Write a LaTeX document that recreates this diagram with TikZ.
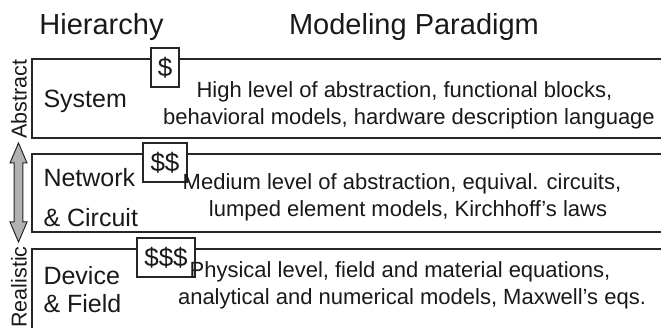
\documentclass[tikz,border=0pt]{standalone}
\usepackage{fontspec}
\setmainfont{Liberation Sans}
\begin{document}
\begin{tikzpicture}[x=1pt,y=-1pt,
  levelbox/.style={draw=black!85, line width=2pt, rectangle, inner sep=0pt},
  costbox/.style={draw=black!85, fill=white, line width=1.2pt, rectangle,
    inner sep=0pt, minimum height=39pt, font=\fontsize{26}{30}\selectfont, text=black!90},
  title/.style={anchor=base, font=\fontsize{29}{34}\selectfont, text=black!90},
  level/.style={anchor=base west, font=\fontsize{25}{30}\selectfont, text=black!90},
  desc/.style={anchor=base, font=\fontsize{22}{27}\selectfont, text=black!90},
  side/.style={anchor=base, rotate=90, font=\fontsize{21.5}{26}\selectfont, text=black!90},
  scalearrow/.style={draw=black!85, fill=black!30, line width=1pt, line join=miter}]
\useasboundingbox (0,0) rectangle (661,328);
\clip (0,0) rectangle (661,328);

% column headings
\node[title] (hHier) at (101.5,35) {Hierarchy};
\node[title] (hPara) at (414,35) {Modeling Paradigm};

% the three abstraction levels (boxes run past the right and bottom edges)
\node[levelbox, minimum width=638pt, minimum height=79pt] (sysbox) at (351,98.5) {};
\node[levelbox, minimum width=638pt, minimum height=78pt] (netbox) at (351,193) {};
\node[levelbox, minimum width=638pt, minimum height=91pt] (devbox) at (351,294.5) {};

% cost tags sitting on the top edge of each level
\node[costbox, minimum width=28pt] (cost1) at (165,67.5) {\$};
\node[costbox, minimum width=44pt] (cost2) at (165,162.5) {\$\$};
\node[costbox, minimum width=58pt] (cost3) at (166,257.5) {\$\$\$};

% level names
\node[level] (lSys) at (40,108) {System};
\node[level] (lNet1) at (40,187) {Network};
\node[level] (lNet2) at (40,227) {\& Circuit};
\node[level] (lDev1) at (40,285) {Device};
\node[level] (lDev2) at (40,313) {\& Field};

% modeling paradigm descriptions
\node[desc] (dSys1) at (404.5,97.7) {High level of abstraction, functional blocks,};
\node[desc] (dSys2) at (409,125) {behavioral models, hardware description language};
\node[desc] (dNet1) at (402,190) {Medium level of abstraction, equival. circuits,};
\node[desc] (dNet2) at (408,217) {lumped element models, Kirchhoff’s laws};
\node[desc] (dDev1) at (400,278) {Physical level, field and material equations,};
\node[desc] (dDev2) at (412,305) {analytical and numerical models, Maxwell’s eqs.};

% abstraction scale on the left
\node[side] (sAbs) at (26.5,99) {Abstract};
\node[side] (sReal) at (26.5,287) {Realistic};
\path[scalearrow] (18.5,143) -- (27,163) -- (22.8,163) -- (22.8,222) -- (27,222)
  -- (18.5,242) -- (10,222) -- (14.2,222) -- (14.2,163) -- (10,163) -- cycle;
\end{tikzpicture}
\end{document}
